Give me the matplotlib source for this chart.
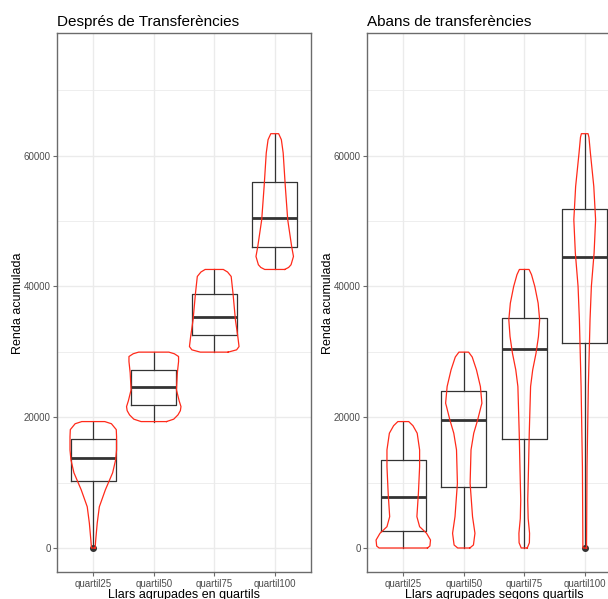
import matplotlib
matplotlib.use("Agg")
import matplotlib.pyplot as plt
import numpy as np

plt.rcParams['font.family'] = ['Liberation Sans', 'DejaVu Sans']

categories = ["quartil25", "quartil50", "quartil75", "quartil100"]
titles = ["Després de Transferències", "Abans de transferències"]
xlabels = ["Llars agrupades en quartils", "Llars agrupades segons quartils"]
ylabel = "Renda acumulada"
yticks = [0, 20000, 40000, 60000]

# Box statistics (after transfers)
after_lo = [0, 19330, 29950, 42590]
after_q1 = [10250, 21870, 32600, 46010]
after_med = [13820, 24600, 35350, 50450]
after_q3 = [16630, 27220, 38820, 56000]
after_hi = [19330, 29950, 42590, 63350]
after_fliers = [[0], [], [], []]

# Box statistics (before transfers)
before_lo = [0, 0, 0, 0]
before_q1 = [2600, 9380, 16700, 31320]
before_med = [7850, 19590, 30400, 44480]
before_q3 = [13520, 24020, 35200, 51830]
before_hi = [19330, 29950, 42590, 63350]
before_fliers = [[], [], [], [0]]

# Violin outlines: y values and half widths (category units), after transfers
a25_y = [0, 1200, 3800, 6300, 8900, 11500, 13500, 15000, 17000, 18100, 19000, 19330]
a25_w = [0.03, 0.04, 0.065, 0.10, 0.20, 0.32, 0.37, 0.385, 0.385, 0.38, 0.30, 0.19]
a50_y = [19330, 19700, 20350, 21000, 21620, 22500, 24180, 26780, 28500, 29280, 29700, 29950]
a50_w = [0.21, 0.33, 0.40, 0.44, 0.45, 0.42, 0.375, 0.39, 0.41, 0.41, 0.34, 0.25]
a75_y = [29950, 30300, 30800, 32330, 34890, 38970, 41520, 42200, 42590]
a75_w = [0.23, 0.37, 0.41, 0.39, 0.35, 0.31, 0.28, 0.22, 0.15]
a100_y = [42590, 42900, 43310, 44580, 46110, 50200, 55300, 60400, 62430, 63350]
a100_w = [0.165, 0.23, 0.27, 0.31, 0.28, 0.215, 0.175, 0.14, 0.11, 0.065]

# Violin outlines, before transfers
b25_y = [0, 300, 1220, 2250, 3260, 4790, 8370, 12440, 15000, 17550, 18700, 19330]
b25_w = [0.40, 0.44, 0.45, 0.385, 0.27, 0.225, 0.25, 0.27, 0.27, 0.23, 0.16, 0.09]
b50_y = [0, 460, 2250, 4790, 9900, 15000, 17550, 19590, 21620, 22140, 24690, 27240, 29200, 29950]
b50_w = [0.10, 0.16, 0.185, 0.145, 0.105, 0.12, 0.165, 0.23, 0.285, 0.30, 0.275, 0.21, 0.14, 0.08]
b75_y = [0, 800, 2250, 4500, 7340, 12000, 17550, 24690, 27240, 29790, 32330, 34890, 37430, 39980, 41800, 42590]
b75_w = [0.05, 0.085, 0.088, 0.065, 0.058, 0.07, 0.083, 0.105, 0.14, 0.195, 0.235, 0.255, 0.23, 0.175, 0.12, 0.08]
b100_y = [0, 12440, 24690, 34890, 40000, 45100, 50190, 55290, 60400, 62800, 63350]
b100_w = [0.03, 0.038, 0.06, 0.088, 0.11, 0.155, 0.18, 0.15, 0.094, 0.07, 0.055]

panels = [
    dict(lo=after_lo, q1=after_q1, med=after_med, q3=after_q3, hi=after_hi, fl=after_fliers,
         vy=[a25_y, a50_y, a75_y, a100_y], vw=[a25_w, a50_w, a75_w, a100_w]),
    dict(lo=before_lo, q1=before_q1, med=before_med, q3=before_q3, hi=before_hi, fl=before_fliers,
         vy=[b25_y, b50_y, b75_y, b100_y], vw=[b25_w, b50_w, b75_w, b100_w]),
]

W, H = 608, 599
fig = plt.figure(figsize=(W / 100, H / 100), dpi=100)
fig.patch.set_facecolor("white")

ax_left_px = [57, 367]
ylabel_x_px = [18, 328]
ax_w_px = 254
ax_top_px = 33.3
ax_bot_px = 572.3

box_col = "#333333"
grid_col = "#EBEBEB"
border_col = "#6b6b6b"
text_col = "#4D4D4D"
vio_col = "#FF2A1A"

for i, p in enumerate(panels):
    ax = fig.add_axes([ax_left_px[i] / W, 1 - ax_bot_px / H, ax_w_px / W, (ax_bot_px - ax_top_px) / H])
    pos = np.arange(1, len(categories) + 1)

    stats = []
    for k in range(len(categories)):
        stats.append(dict(whislo=p["lo"][k], q1=p["q1"][k], med=p["med"][k], q3=p["q3"][k],
                          whishi=p["hi"][k], fliers=p["fl"][k]))
    ax.bxp(stats, positions=pos, widths=0.75, showcaps=False, patch_artist=False,
           manage_ticks=False,
           boxprops=dict(color=box_col, lw=0.9),
           whiskerprops=dict(color=box_col, lw=0.9),
           medianprops=dict(color=box_col, lw=2.0),
           flierprops=dict(marker="o", markersize=4, markerfacecolor=box_col,
                           markeredgecolor=box_col),
           zorder=3)

    for k in range(len(categories)):
        y = np.array(p["vy"][k], dtype=float)
        w = np.array(p["vw"][k], dtype=float)
        xs = np.concatenate([pos[k] + w, (pos[k] - w)[::-1], [pos[k] + w[0]]])
        ys = np.concatenate([y, y[::-1], [y[0]]])
        ax.plot(xs, ys, color=vio_col, lw=0.9, zorder=4, solid_joinstyle="round")

    ax.set_xlim(0.4, 4.6)
    ax.set_ylim(-3716, 78700)
    ax.set_yticks(yticks)
    ax.set_yticklabels([str(v) for v in yticks])
    ax.set_yticks([10000, 30000, 50000, 70000], minor=True)
    ax.set_xticks(pos)
    ax.set_xticklabels(categories)
    ax.grid(True, which="major", color=grid_col, lw=1.0, zorder=0)
    ax.yaxis.grid(True, which="minor", color=grid_col, lw=0.6, zorder=0)
    ax.set_axisbelow(True)

    for s in ax.spines.values():
        s.set_color(border_col)
        s.set_linewidth(1.0)
    ax.tick_params(axis="both", which="major", length=3, width=0.8, color=border_col,
                   labelsize=7, labelcolor=text_col, pad=1.5)
    ax.tick_params(axis="both", which="minor", length=0)

    ax.set_title(titles[i], loc="left", fontsize=11, pad=5, color="black")
    ax.set_xlabel(xlabels[i], fontsize=9, color="black")
    ax.xaxis.set_label_coords(0.5, -0.031)
    ax.set_ylabel(ylabel, fontsize=9, color="black", va="center")
    ax.yaxis.set_label_coords((ylabel_x_px[i] - ax_left_px[i]) / ax_w_px, 0.5)

fig.savefig("out.png", dpi=100, facecolor="white")
